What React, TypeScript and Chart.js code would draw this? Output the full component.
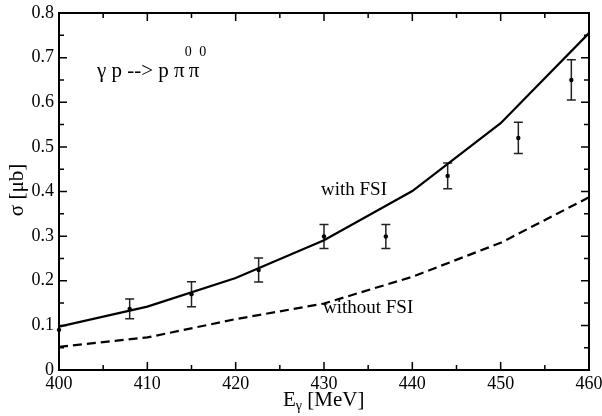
import React, { useEffect, useRef } from "react";
import { Chart, registerables } from "chart.js";

Chart.register(...registerables);

const FONT = '"Liberation Serif", "Times New Roman", serif';

// Model curves (sampled every 10 MeV)
const modelEnergies = [400, 410, 420, 430, 440, 450, 460];
const withFSI = [0.097, 0.142, 0.206, 0.291, 0.401, 0.553, 0.755];
const withoutFSI = [0.052, 0.073, 0.114, 0.149, 0.209, 0.285, 0.387];

// Experimental data
const expEnergies = [400, 408, 415, 422.6, 430, 437, 444, 452, 458];
const expSigma = [0.09, 0.137, 0.17, 0.224, 0.299, 0.299, 0.435, 0.52, 0.65];
const expError = [0, 0.022, 0.028, 0.027, 0.027, 0.027, 0.029, 0.035, 0.045];

// Axis settings
const xMin = 400;
const xMax = 460;
const xStep = 10;
const yMin = 0;
const yMax = 0.8;
const yStep = 0.1;

// Texts
const titleParts = ["γ p --> p π", "0", "π", "0"];
const labelWith = "with FSI";
const labelWithout = "without FSI";
const yTitle = "σ [μb]";
const xTitleMain = "E";
const xTitleSub = "γ";
const xTitleRest = " [MeV]";

export default function App() {
  const ref = useRef<HTMLCanvasElement>(null);

  useEffect(() => {
    const canvas = ref.current;
    if (!canvas) return;

    const decorPlugin = {
      id: "decor",
      beforeDatasetsDraw(chart: any) {
        const { ctx, chartArea: a, scales } = chart;
        const xs = scales.x;
        const ys = scales.y;
        ctx.save();
        // ticks (inward on all four sides)
        ctx.strokeStyle = "#000";
        ctx.lineWidth = 1.5;
        const xMaj = xs.ticks.map((t: any) => t.value);
        const yMaj = ys.ticks.map((t: any) => t.value);
        const xMid: number[] = [];
        for (let i = 0; i < xMaj.length - 1; i++) xMid.push((xMaj[i] + xMaj[i + 1]) / 2);
        const yMid: number[] = [];
        for (let i = 0; i < yMaj.length - 1; i++) yMid.push((yMaj[i] + yMaj[i + 1]) / 2);
        const drawX = (vals: number[], len: number) => {
          for (const v of vals) {
            const px = xs.getPixelForValue(v);
            ctx.beginPath();
            ctx.moveTo(px, a.bottom);
            ctx.lineTo(px, a.bottom - len);
            ctx.moveTo(px, a.top);
            ctx.lineTo(px, a.top + len);
            ctx.stroke();
          }
        };
        const drawY = (vals: number[], len: number) => {
          for (const v of vals) {
            const py = ys.getPixelForValue(v);
            ctx.beginPath();
            ctx.moveTo(a.left, py);
            ctx.lineTo(a.left + len, py);
            ctx.moveTo(a.right, py);
            ctx.lineTo(a.right - len, py);
            ctx.stroke();
          }
        };
        drawX(xMaj, 8);
        drawX(xMid, 5);
        drawY(yMaj, 8);
        drawY(yMid, 5);

        // frame
        ctx.lineWidth = 2;
        ctx.strokeRect(a.left, a.top, a.right - a.left, a.bottom - a.top);

        // error bars
        ctx.strokeStyle = "#222";
        ctx.lineWidth = 1.5;
        for (let i = 0; i < expEnergies.length; i++) {
          if (expError[i] <= 0) continue;
          const px = xs.getPixelForValue(expEnergies[i]);
          const top = ys.getPixelForValue(expSigma[i] + expError[i]);
          const bot = ys.getPixelForValue(expSigma[i] - expError[i]);
          ctx.beginPath();
          ctx.moveTo(px, top);
          ctx.lineTo(px, bot);
          ctx.moveTo(px - 4.5, top);
          ctx.lineTo(px + 4.5, top);
          ctx.moveTo(px - 4.5, bot);
          ctx.lineTo(px + 4.5, bot);
          ctx.stroke();
        }
        ctx.restore();
      },
      afterDraw(chart: any) {
        const { ctx } = chart;
        ctx.save();
        ctx.fillStyle = "#000";
        ctx.textAlign = "left";
        ctx.textBaseline = "alphabetic";
        const big = `21px ${FONT}`;
        const mid = `19px ${FONT}`;
        const small = `14px ${FONT}`;
        // reaction title
        let tx = 97;
        const ty = 77;
        ctx.font = big;
        ctx.fillText(titleParts[0], tx, ty);
        tx += ctx.measureText(titleParts[0]).width;
        ctx.font = small;
        ctx.fillText(titleParts[1], tx, ty - 21);
        tx += ctx.measureText(titleParts[1]).width - 3;
        ctx.font = big;
        ctx.fillText(titleParts[2], tx, ty);
        tx += ctx.measureText(titleParts[2]).width;
        ctx.font = small;
        ctx.fillText(titleParts[3], tx, ty - 21);

        // curve labels
        ctx.font = mid;
        ctx.fillText(labelWith, 321, 195);
        ctx.fillText(labelWithout, 323, 313);

        // x title
        let ex = 283;
        const ey = 406;
        ctx.font = big;
        ctx.fillText(xTitleMain, ex, ey);
        ex += ctx.measureText(xTitleMain).width;
        ctx.font = small;
        ctx.fillText(xTitleSub, ex, ey + 4);
        ex += ctx.measureText(xTitleSub).width;
        ctx.font = big;
        ctx.fillText(xTitleRest, ex, ey);

        // y title
        ctx.save();
        ctx.translate(17, 190);
        ctx.rotate(-Math.PI / 2);
        ctx.textAlign = "center";
        ctx.textBaseline = "middle";
        ctx.font = big;
        ctx.fillText(yTitle, 0, 0);
        ctx.restore();

        ctx.restore();
      },
    };

    const chart = new Chart(canvas, {
      type: "line",
      data: {
        datasets: [
          {
            label: labelWith,
            data: modelEnergies.map((e, i) => ({ x: e, y: withFSI[i] })),
            borderColor: "#000",
            borderWidth: 2.2,
            pointRadius: 0,
            tension: 0,
            fill: false,
          },
          {
            label: labelWithout,
            data: modelEnergies.map((e, i) => ({ x: e, y: withoutFSI[i] })),
            borderColor: "#000",
            borderWidth: 2.2,
            borderDash: [9, 5],
            pointRadius: 0,
            tension: 0,
            fill: false,
          },
          {
            label: "data",
            data: expEnergies.map((e, i) => ({ x: e, y: expSigma[i] })),
            showLine: false,
            pointRadius: 2.2,
            pointBackgroundColor: "#000",
            pointBorderColor: "#000",
            pointBorderWidth: 0,
            clip: false,
          },
        ],
      },
      options: {
        animation: false,
        responsive: false,
        maintainAspectRatio: false,
        events: [],
        layout: { padding: { left: 0, right: 13, top: 13, bottom: 0 } },
        plugins: {
          legend: { display: false },
          tooltip: { enabled: false },
          title: { display: false },
        },
        scales: {
          x: {
            type: "linear",
            min: xMin,
            max: xMax,
            grid: { display: false, drawTicks: false },
            border: { display: false },
            ticks: {
              stepSize: xStep,
              color: "#000",
              padding: 3,
              maxRotation: 0,
              font: { family: FONT, size: 18 },
            },
            afterFit(scale: any) {
              scale.height = 46;
              scale.paddingLeft = 0;
              scale.paddingRight = 0;
            },
          },
          y: {
            type: "linear",
            min: yMin,
            max: yMax,
            grid: { display: false, drawTicks: false },
            border: { display: false },
            ticks: {
              stepSize: yStep,
              color: "#000",
              padding: 5,
              font: { family: FONT, size: 18 },
              callback: (v: any) => String(Math.round(Number(v) * 10) / 10),
            },
            afterFit(scale: any) {
              scale.width = 59;
              scale.paddingTop = 0;
              scale.paddingBottom = 0;
            },
          },
        },
      },
      plugins: [decorPlugin],
    });

    return () => chart.destroy();
  }, []);

  return (
    <div style={{ position: "absolute", left: 0, top: 0, width: 602, height: 416, background: "#fff" }}>
      <canvas ref={ref} width={602} height={416} style={{ width: 602, height: 416 }} />
    </div>
  );
}
